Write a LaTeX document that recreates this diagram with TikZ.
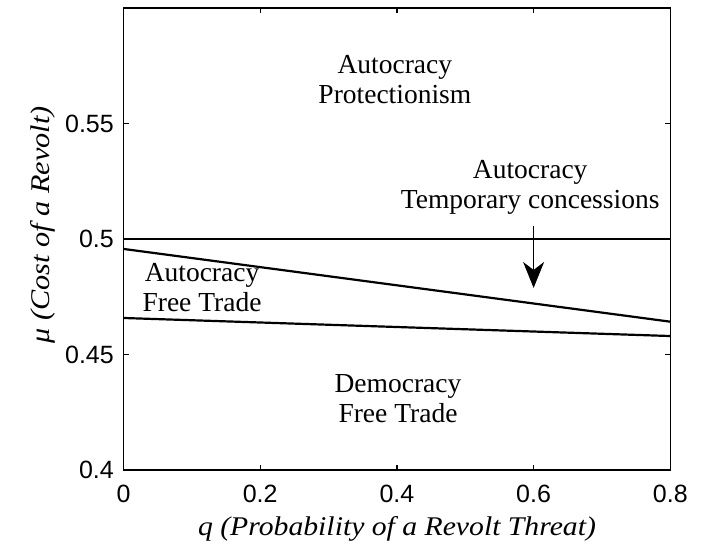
\documentclass[tikz,border=0pt]{standalone}
\usepackage{fontspec}
\setmainfont{Liberation Serif}
\newfontfamily\ticksfont{Liberation Sans}
\usetikzlibrary{arrows.meta}

\begin{document}
\begin{tikzpicture}[x=1pt,y=1pt,
  region/.style={font=\fontsize{27.5}{30}\selectfont, align=center, inner sep=0pt, anchor=base},
  ticklab/.style={font=\ticksfont\fontsize{25}{28}\selectfont, inner sep=0pt},
  axlab/.style={font=\itshape\fontsize{27}{30}\selectfont, inner sep=0pt, anchor=base},
  boundary/.style={line width=2.2pt},
  frame/.style={line width=1.6pt, line join=miter},
  tickmark/.style={line width=1.2pt},
  pointer/.style={line width=1.1pt, -{Stealth[length=26pt,width=21pt,inset=8pt]}},
]
\useasboundingbox (0,0) rectangle (706,548);

% data coordinates: q on x (0..0.8), mu on y (0.4..0.6)
\begin{scope}[x=683.5pt, y=2310pt, shift={(123.5pt,-846pt)}]
  % axis ticks (inside, on all four sides)
  \foreach \q in {0,0.2,0.4,0.6,0.8} {
    \draw[tickmark] (\q,0.4) -- ++(0,5pt);
    \draw[tickmark] (\q,0.6) -- ++(0,-5pt);
    \node[ticklab, anchor=north] (xt\q) at ([yshift=-15pt]\q,0.4) {\q};
  }
  \foreach \m in {0.4,0.45,0.5,0.55} {
    \draw[tickmark] (0,\m) -- ++(5pt,0);
    \draw[tickmark] (0.8,\m) -- ++(-5pt,0);
    \node[ticklab, anchor=east] (yt\m) at ([xshift=-9.5pt]0,\m) {\m};
  }

  % regime boundaries
  \coordinate (upperL) at (0,0.5);
  \coordinate (upperR) at (0.8,0.5);
  \coordinate (midL)   at (0,0.4957);
  \coordinate (midR)   at (0.8,0.4642);
  \coordinate (lowL)   at (0,0.4658);
  \coordinate (lowR)   at (0.8,0.4580);
  \draw[boundary] (upperL) -- (upperR);
  \draw[boundary] (midL) -- (midR);
  \draw[boundary] (lowL) -- (lowR);

  % plot frame
  \draw[frame] (0,0.4) rectangle (0.8,0.6);

  % region labels (anchored on the baseline of their last line)
  \node[region] (prot) at (0.397,0.55887) {Autocracy\\Protectionism};
  \node[region] (temp) at (0.595,0.51299) {Autocracy\\Temporary concessions};
  \node[region] (afree) at (0.1149,0.46883) {Autocracy\\Free Trade};
  \node[region] (dem) at (0.4016,0.42078) {Democracy\\Free Trade};

  % pointer into the thin concession band
  \coordinate (ptrTail) at (0.6,0.5056);
  \coordinate (ptrTip)  at (0.6,0.4788);
  \draw[pointer] (ptrTail) -- (ptrTip);
\end{scope}

% axis labels
\node[axlab, xscale=1.1] (xlab) at (397,12) {q (Probability of a Revolt Threat)};
\node[axlab, rotate=90, xscale=1.12] (ylab) at (49,323) {μ (Cost of a Revolt)};
\end{tikzpicture}
\end{document}
